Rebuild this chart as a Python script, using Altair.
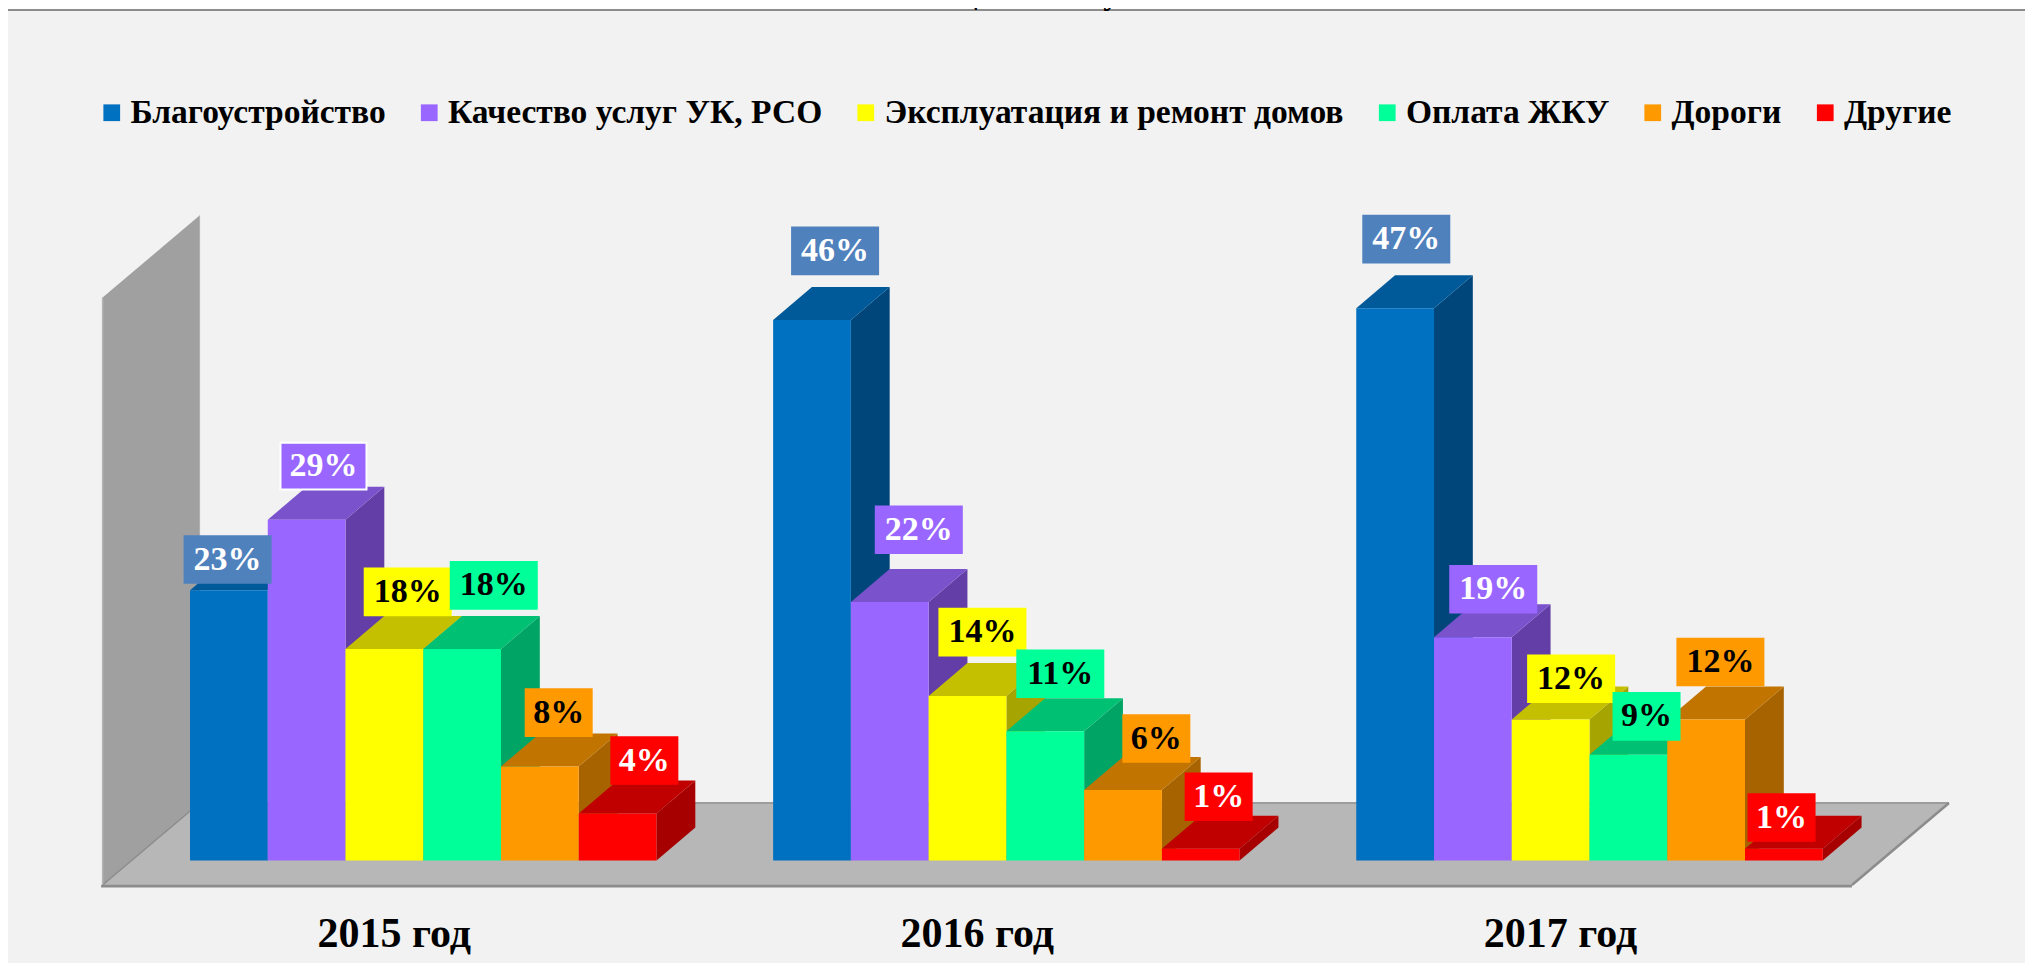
import altair as alt
import pandas as pd

# --- values ---
years = ["2015 год", "2016 год", "2017 год"]
series = ["Благоустройство", "Качество услуг УК, РСО", "Эксплуатация и ремонт домов",
          "Оплата ЖКУ", "Дороги", "Другие"]
v2015 = [23, 29, 18, 18, 8, 4]
v2016 = [46, 22, 14, 11, 6, 1]
v2017 = [47, 19, 12, 9, 12, 1]
values = [v2015, v2016, v2017]

front = ["#0070c0", "#9966ff", "#ffff00", "#00ff99", "#ff9900", "#ff0000"]
topc = ["#005a9a", "#7a52cc", "#c4c000", "#00c073", "#c27400", "#c00000"]
sidec = ["#00467a", "#623ea6", "#a6a400", "#00a565", "#a66300", "#a60000"]
boxc = ["#4f81bd", "#9966ff", "#ffff00", "#00ff99", "#ff9900", "#ff0000"]
textc = ["#ffffff", "#ffffff", "#000000", "#000000", "#000000", "#ffffff"]

# hand-placed label offsets from the top-centre of each bar's front face (px)
S = 2033 / 1568
label_dx = [[-1, 13, 18, 24.4, 14.5, 20.6], [17.8, 22.4, 11.5, 11.6, 25.7, 13.8], [8.6, 15.7, 15.8, 14, 11, -1.8]]
label_dy = [[-23.6, -41.3, -44, -49, -41.5, -40.8], [-53.2, -55.7, -49.2, -44.3, -39.6, -40], [-53.2, -36.9, -31.3, -29.5, -44.3, -24]]

# --- oblique projection of the 3-D chart ---
W, H = 2017, 955
FONT = "Liberation Serif"
BAR = 77.75         # px per bar width
PCT = 11.75         # px per percent
X0, Y0 = 102.6, 885 # page px of floor's front-left corner
DX, DY = 97, 82     # px for the full depth of the floor
CX, CY = DX / BAR, DY / PCT
D0, D1 = 0.3, 0.7   # bar depth range
GROUP = 7.5
AXIS_MAX = 50

xs = alt.Scale(domain=[(8 - X0) / BAR, (8 + W - X0) / BAR], range=[0, W], nice=False, zero=False)
ys = alt.Scale(domain=[(Y0 - 8 - H) / PCT, (Y0 - 8) / PCT], range=[H, 0], nice=False, zero=False)
X = lambda f: alt.X(f, type="quantitative", scale=xs, axis=None)
Y = lambda f: alt.Y(f, type="quantitative", scale=ys, axis=None)

bars, side, top, lab = [], [], [], []
for g, vals in enumerate(values):
    for i, v in enumerate(vals):
        x0 = 0.5 * (GROUP - 6) + GROUP * g + i
        x1 = x0 + 1
        key = f"{g}-{i}"
        bars.append(dict(series=series[i], x=x0 + D0 * CX, x2=x1 + D0 * CX, y=v + D0 * CY, y2=D0 * CY))
        for d in (D0, D1):
            side.append(dict(key=key, c=sidec[i], x=x1 + d * CX, y=v + d * CY, y2=d * CY))
            top.append(dict(key=key, c=topc[i], x=x0 + d * CX, x2=x1 + d * CX, y=v + d * CY))
        cx = x0 + 0.5 + D0 * CX + label_dx[g][i] * S / BAR
        cy = v + D0 * CY - label_dy[g][i] * S / PCT
        hw = (86 if v >= 10 else 66) / 2 / BAR
        hh = 23.3 / PCT
        lab.append(dict(t=f"{v}%", box=boxc[i], tc=textc[i], x=cx, ym=cy, xa=cx - hw, xb=cx + hw, ya=cy - hh, yb=cy + hh,
                        border="#ffffff" if (g == 0 and i == 1) else boxc[i]))
bars, side, top, lab = map(pd.DataFrame, (bars, side, top, lab))

panel = alt.Chart(pd.DataFrame({"a": [0]})).mark_rect(fill="#f2f2f2", stroke="#8c8c8c", strokeWidth=2).encode(
    x=alt.value(-1), x2=alt.value(W + 20), y=alt.value(2), y2=alt.value(H + 20))

title = alt.Chart(pd.DataFrame({"t": ["по теме: «Жилищно-коммунальное хозяйство»"]})).mark_text(
    font=FONT, fontWeight="bold", fontSize=33, align="center", baseline="alphabetic", color="#000000"
).encode(text="t:N", x=alt.value(1055), y=alt.value(-4))

span = GROUP * len(years)
floor_df = pd.DataFrame({"x": [0, CX], "x2": [span, span + CX], "y": [0, CY]})
floor = alt.Chart(floor_df).mark_area(orient="horizontal", fill="#b7b7b7", line=False).encode(
    x=X("x"), x2="x2", y=Y("y"))
wall_df = pd.DataFrame({"x": [0, CX], "y": [AXIS_MAX, AXIS_MAX + CY], "y2": [0, CY]})
wall = alt.Chart(wall_df).mark_area(orient="vertical", fill="#a0a0a0").encode(x=X("x"), y=Y("y"), y2="y2")

edges_df = pd.DataFrame([
    dict(x=CX, x2=span + CX, y=CY, y2=CY, c="#9c9c9c", w=2),            # back edge of the floor
    dict(x=span + CX, x2=span, y=CY, y2=0, c="#8c8c8c", w=2.5),         # right edge of the floor
    dict(x=0, x2=CX, y=0, y2=CY, c="#8c8c8c", w=1.5),                   # seam between wall and floor
    dict(x=0, x2=0, y=0, y2=AXIS_MAX, c="#b5b5b5", w=1.5),              # wall front edge
    dict(x=CX, x2=CX, y=CY, y2=AXIS_MAX + CY, c="#b0b0b0", w=1),        # wall back edge
])
edges = alt.Chart(edges_df).mark_rule().encode(
    x=X("x"), x2="x2", y=Y("y"), y2="y2",
    stroke=alt.Stroke("c:N", scale=None), strokeWidth=alt.StrokeWidth("w:Q", scale=None))
edge_df = pd.DataFrame({"x": [-1.5 / BAR], "x2": [span], "y": [0.3 / PCT], "y2": [-2.4 / PCT]})
edge = alt.Chart(edge_df).mark_rect(fill="#8c8c8c").encode(x=X("x"), x2="x2", y=Y("y"), y2="y2")

side_l = alt.Chart(side).mark_area(orient="vertical").encode(
    x=X("x"), y=Y("y"), y2="y2", detail="key:N", fill=alt.Fill("c:N", scale=None))
top_l = alt.Chart(top).mark_area(orient="horizontal").encode(
    x=X("x"), x2="x2", y=Y("y"), detail="key:N", fill=alt.Fill("c:N", scale=None))
front_l = alt.Chart(bars).mark_rect().encode(
    x=X("x"), x2="x2", y=Y("y"), y2="y2",
    color=alt.Color("series:N", scale=alt.Scale(domain=series, range=front), sort=series,
                    legend=alt.Legend(title=None, orient="none", legendX=87, legendY=88, direction="horizontal",
                                      columns=6, gridAlign="none", columnPadding=26.5, padding=0,
                                      symbolType="square", symbolSize=280, symbolStrokeWidth=0,
                                      symbolOffset=0, labelOffset=2, labelLimit=600,
                                      labelFont=FONT, labelFontSize=33.5, labelFontWeight="bold", labelColor="#000000")))

boxes = alt.Chart(lab).mark_rect(strokeWidth=2).encode(
    x=X("xa"), x2="xb", y=Y("ya"), y2="yb", fill=alt.Fill("box:N", scale=None), stroke=alt.Stroke("border:N", scale=None))
texts = alt.Chart(lab).mark_text(font=FONT, fontWeight="bold", fontSize=34, baseline="middle", align="center").encode(
    x=X("x"), y=Y("ym"), text="t:N", fill=alt.Fill("tc:N", scale=None))

cats = pd.DataFrame({"t": years, "x": [GROUP * (g + 0.5) for g in range(len(years))], "y": [-48.5 / PCT] * len(years)})
cat_l = alt.Chart(cats).mark_text(font=FONT, fontWeight="bold", fontSize=42, baseline="middle", align="center",
                                  color="#000000").encode(x=X("x"), y=Y("y"), text="t:N")

chart = alt.layer(panel, title, floor, wall, edges, edge, side_l, top_l, front_l, boxes, texts, cat_l).properties(
    width=W, height=H, background="#ffffff", padding=0, autosize=alt.AutoSizeParams(type="none")
).configure_view(stroke=None)

chart.save("out.html", embed_options={"renderer": "svg", "actions": False})
